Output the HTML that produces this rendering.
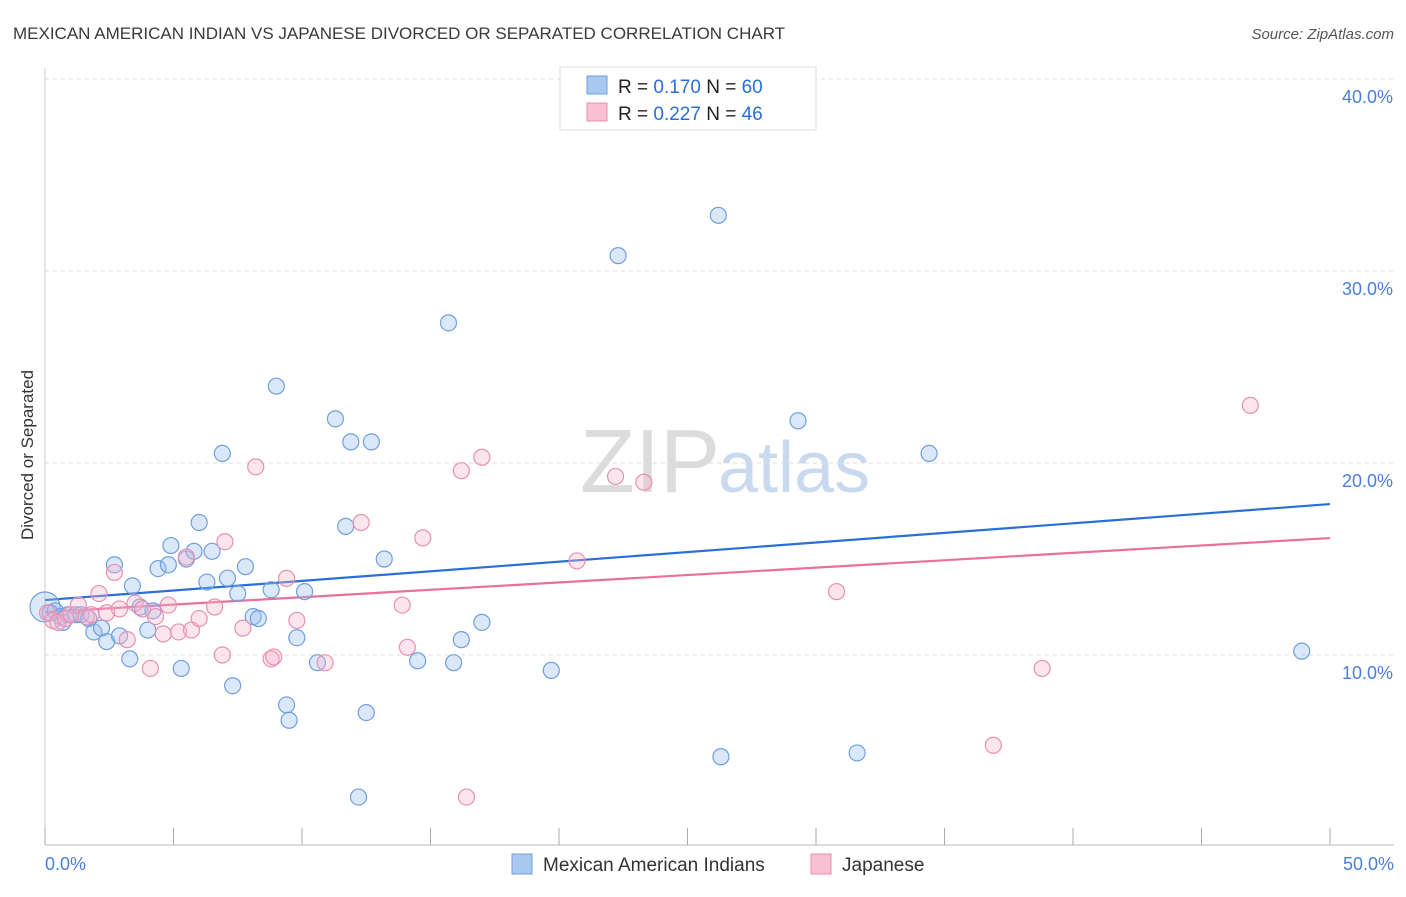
<!DOCTYPE html>
<html><head><meta charset="utf-8"><style>
body{margin:0;background:#fff;font-family:"Liberation Sans",sans-serif;}
svg text{font-family:"Liberation Sans",sans-serif;}
</style></head><body>
<svg id="chart" width="1406" height="892" viewBox="0 0 1406 892">
<text x="13" y="39" font-size="17" fill="#3a3a3a">MEXICAN AMERICAN INDIAN VS JAPANESE DIVORCED OR SEPARATED CORRELATION CHART</text>
<text x="1394" y="39" font-size="15" fill="#555" text-anchor="end" font-style="italic">Source: ZipAtlas.com</text>
<text x="720" y="492" font-size="90" fill="#dcdcdc" text-anchor="end" font-family="Liberation Serif">ZIP</text>
<text x="718" y="492" font-size="72" fill="#c9d9f0">atlas</text>
<g id="grid"></g>
<g id="axes"></g>
<text transform="translate(33,455) rotate(-90)" font-size="17" fill="#333" text-anchor="middle">Divorced or Separated</text>
<g id="lines"></g>
<g id="points"></g>
<g>
<rect x="560" y="67" width="256" height="63" fill="#fff" stroke="#ddd"/>
<rect x="587" y="76" width="20" height="18" fill="#a8c8f0" stroke="#6f9fe0"/>
<text x="618" y="93" font-size="19" fill="#222">R = <tspan fill="#2a6fd6">0.170</tspan>   N = <tspan fill="#2a6fd6">60</tspan></text>
<rect x="587" y="103" width="20" height="18" fill="#f8c0d2" stroke="#e890b0"/>
<text x="618" y="120" font-size="19" fill="#222">R = <tspan fill="#2a6fd6">0.227</tspan>   N = <tspan fill="#2a6fd6">46</tspan></text>
</g>
<g>
<rect x="512" y="854" width="20" height="20" fill="#a8c8f0" stroke="#6f9fe0"/>
<text x="543" y="871" font-size="19" fill="#333">Mexican American Indians</text>
<rect x="811" y="854" width="20" height="20" fill="#f8c0d2" stroke="#e890b0"/>
<text x="842" y="871" font-size="19" fill="#333">Japanese</text>
</g>
</svg>
<script>
const yTicks=[10,20,30,40];
const yTickLabels=["10.0%","20.0%","30.0%","40.0%"];
const xTicks=[0,5,10,15,20,25,30,35,40,45,50];
const blueX=[0,0.2,0.4,0.6,0.7,0.9,1.2,1.4,1.7,1.9,2.2,2.4,2.7,2.9,3.3,3.4,3.7,4.0,4.2,4.4,4.8,4.9,5.3,5.5,5.8,6.0,6.3,6.5,6.9,7.1,7.3,7.5,7.8,8.1,8.3,8.8,9.0,9.4,9.5,9.8,10.1,10.6,11.3,11.7,11.9,12.2,12.5,12.7,13.2,14.5,15.7,15.9,16.2,17.0,19.7,22.3,26.2,26.3,29.3,31.6,34.4,48.9];
const blueY=[12.5,12.2,12.3,12.0,11.7,12.1,12.1,12.1,11.9,11.2,11.4,10.7,14.7,11.0,9.8,13.6,12.5,11.3,12.3,14.5,14.7,15.7,9.3,15.0,15.4,16.9,13.8,15.4,20.5,14.0,8.4,13.2,14.6,12.0,11.9,13.4,24.0,7.4,6.6,10.9,13.3,9.6,22.3,16.7,21.1,2.6,7.0,21.1,15.0,9.7,27.3,9.6,10.8,11.7,9.2,30.8,32.9,4.7,22.2,4.9,20.5,10.2];
const pinkX=[0.1,0.3,0.5,0.8,1.0,1.3,1.6,1.8,2.1,2.4,2.7,2.9,3.2,3.5,3.8,4.1,4.3,4.6,4.8,5.2,5.5,5.7,6.0,6.6,6.9,7.0,7.7,8.2,8.8,8.9,9.4,9.8,10.9,12.3,13.9,14.1,14.7,16.2,16.4,17.0,20.7,22.2,23.3,30.8,36.9,38.8,46.9];
const pinkY=[12.2,11.8,11.7,11.9,12.1,12.6,12.0,12.1,13.2,12.2,14.3,12.4,10.8,12.7,12.4,9.3,12.0,11.1,12.6,11.2,15.1,11.3,11.9,12.5,10.0,15.9,11.4,19.8,9.8,9.9,13.99,11.8,9.6,16.9,12.6,10.4,16.1,19.6,2.6,20.3,14.9,19.3,19.0,13.3,5.3,9.3,23.0];
const blueTrend=[12.86,17.86];
const pinkTrend=[12.24,16.09];
const NS="http://www.w3.org/2000/svg";
const X0=45,X1=1330,Y0=847,PXPER=19.2;
function xs(v){return X0+(v-0)/(50-0)*(X1-X0);}
function ys(v){return Y0-v*PXPER;}
function mk(tag,attrs,parent){const e=document.createElementNS(NS,tag);for(const k in attrs)e.setAttribute(k,attrs[k]);parent.appendChild(e);return e;}
const grid=document.getElementById('grid'),axes=document.getElementById('axes'),lines=document.getElementById('lines'),pts=document.getElementById('points');
yTicks.forEach((t,i)=>{
 const l=mk('line',{x1:45,x2:1394,y1:ys(t),y2:ys(t),stroke:'#ddd','stroke-dasharray':'4,4'},grid);
 
 
 const tx=mk('text',{x:1393,y:ys(t)+24,'font-size':18,fill:'#4a7fd8','text-anchor':'end'},axes);
 tx.textContent=yTickLabels[i];
 
 
});
const ax=mk('line',{x1:45,x2:1394,y1:845,y2:845,stroke:'#bbb'},axes);


const ay=mk('line',{x1:45,x2:45,y1:68,y2:845,stroke:'#ccc'},axes);


xTicks.forEach(t=>{
 const l=mk('line',{x1:xs(t),x2:xs(t),y1:828,y2:845,stroke:'#aaa'},axes);
 
 
});
const xl0=mk('text',{x:45,y:870,'font-size':18,fill:'#4a7fd8'},axes);xl0.textContent='0.0%';


const xl1=mk('text',{x:1394,y:870,'font-size':18,fill:'#4a7fd8','text-anchor':'end'},axes);xl1.textContent='50.0%';


blueX.forEach((v,i)=>{
 const c=mk('circle',{cx:xs(v),cy:ys(blueY[i]),r:i===0?15:8,fill:'rgba(150,190,240,0.35)',stroke:'#6f9fe0','stroke-width':1.2},pts);
 
 
});
pinkX.forEach((v,i)=>{
 const c=mk('circle',{cx:xs(v),cy:ys(pinkY[i]),r:8,fill:'rgba(248,180,205,0.35)',stroke:'#e890b0','stroke-width':1.2},pts);
 
 
});
const bl=mk('line',{x1:xs(0),y1:ys(blueTrend[0]),x2:xs(50),y2:ys(blueTrend[1]),stroke:'#2a6fd6','stroke-width':2.2},lines);


const pl=mk('line',{x1:xs(0),y1:ys(pinkTrend[0]),x2:xs(50),y2:ys(pinkTrend[1]),stroke:'#e8709a','stroke-width':2.2},lines);


</script>
</body></html>
